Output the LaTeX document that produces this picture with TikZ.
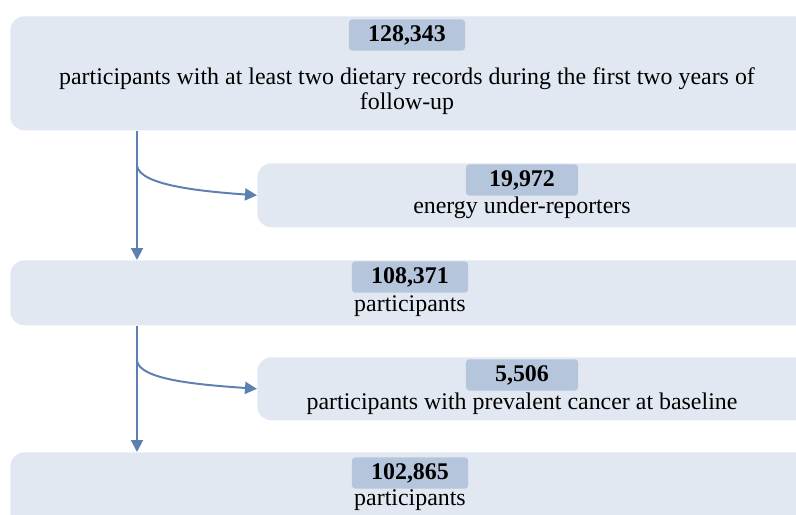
\documentclass[tikz,border=0pt]{standalone}
\usepackage{fontspec}
\setmainfont{Liberation Serif}
\usetikzlibrary{arrows.meta}

\definecolor{boxfill}{RGB}{226,232,241}
\definecolor{tagfill}{RGB}{181,197,219}
\definecolor{arrowblue}{RGB}{93,128,178}

\tikzset{
  stagebox/.style={fill=boxfill, rounded corners=0.35cm, anchor=north west, inner sep=0pt},
  tagbox/.style={fill=tagfill, rounded corners=0.08cm, minimum height=0.78cm,
    inner sep=0pt, font=\fontsize{17}{19}\selectfont\bfseries},
  stagetext/.style={align=center, inner sep=0pt, font=\fontsize{17}{17.5}\selectfont},
  flowarrow/.style={draw=arrowblue, line width=1.4pt,
    -{Triangle[length=0.3cm,width=0.3cm]}}
}

\begin{document}
\begin{tikzpicture}[x=0.025cm, y=-0.025cm]
      \useasboundingbox (0,0) rectangle (796,514);
      \clip (0,0) rectangle (796,514);

      % the five stages of the flow
      \node[stagebox, minimum width=20cm, minimum height=2.85cm] (box1) at (10,16) {};
      \node[stagebox, minimum width=13.85cm, minimum height=1.6cm] (box2) at (257,163) {};
      \node[stagebox, minimum width=20cm, minimum height=1.625cm] (box3) at (10,260) {};
      \node[stagebox, minimum width=13.85cm, minimum height=1.575cm] (box4) at (257,357) {};
      \node[stagebox, minimum width=20cm, minimum height=2cm] (box5) at (10,452) {};

      % counts on top of each stage
      \node[tagbox, minimum width=2.9cm] (n1) at (407,35) {128,343};
      \node[tagbox, minimum width=2.8cm] (n2) at (522,180) {19,972};
      \node[tagbox, minimum width=2.9cm] (n3) at (410,277) {108,371};
      \node[tagbox, minimum width=2.8cm] (n4) at (522,375) {5,506};
      \node[tagbox, minimum width=2.9cm] (n5) at (410,473) {102,865};

      % what each count stands for
      \node[stagetext] (t1) at (407,91)
        {participants with at least two dietary records during the first two years of\\ follow-up};
      \node[stagetext] (t2) at (522,208) {energy under-reporters};
      \node[stagetext] (t3) at (410,306) {participants};
      \node[stagetext] (t4) at (522,404) {participants with prevalent cancer at baseline};
      \node[stagetext] (t5) at (410,500) {participants};

      % where the exclusions leave the main line
      \coordinate (split1) at (137,166);
      \coordinate (split2) at (137,361);

      \draw[flowarrow] (split1 |- box1.south) -- (split1 |- box3.north);
      \draw[flowarrow] (split1) to[out=-80, in=176, out looseness=0.4, in looseness=1.2] (box2.west);

      \draw[flowarrow] (split2 |- box3.south) -- (split2 |- box5.north);
      \draw[flowarrow] (split2) to[out=-80, in=176, out looseness=0.4, in looseness=1.2] (box4.west);
\end{tikzpicture}
\end{document}
